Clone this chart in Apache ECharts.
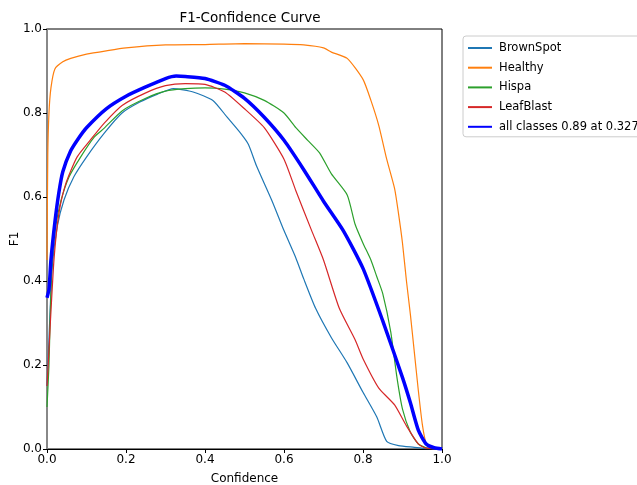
<!DOCTYPE html>
<html><head><meta charset="utf-8">
<script src="https://cdn.jsdelivr.net/npm/echarts@6/dist/echarts.min.js"></script>
<style>html,body{margin:0;padding:0;background:#fff}#c{width:637px;height:485px}</style>
</head><body><div id="c"></div>
<script>
const xTicks = [0, 0.2, 0.4, 0.6, 0.8, 1.0];
const yTicks = [0, 0.2, 0.4, 0.6, 0.8, 1.0];

const brownX = [0, 0.004, 0.013, 0.026, 0.043, 0.068, 0.1, 0.145, 0.19, 0.235, 0.28, 0.32, 0.37, 0.42, 0.456, 0.49, 0.51, 0.53, 0.57, 0.6, 0.63, 0.65, 0.68, 0.72, 0.76, 0.8, 0.835, 0.86, 0.89, 0.93, 0.96, 1.0];
const brownY = [0.15, 0.24, 0.43, 0.53, 0.593, 0.648, 0.695, 0.752, 0.8, 0.826, 0.845, 0.858, 0.85, 0.83, 0.79, 0.752, 0.725, 0.675, 0.59, 0.52, 0.455, 0.405, 0.335, 0.265, 0.205, 0.135, 0.076, 0.018, 0.008, 0.004, 0.001, 0];

const healthyX = [0, 0.002, 0.005, 0.01, 0.02, 0.04, 0.06, 0.1, 0.15, 0.2, 0.3, 0.4, 0.5, 0.6, 0.65, 0.7, 0.72, 0.76, 0.8, 0.82, 0.84, 0.86, 0.88, 0.89, 0.9, 0.91, 0.92, 0.93, 0.94, 0.95, 0.96, 0.97, 0.98, 1.0];
const healthyY = [0.45, 0.7, 0.8, 0.86, 0.905, 0.922, 0.93, 0.94, 0.948, 0.955, 0.962, 0.963, 0.965, 0.964, 0.962, 0.955, 0.945, 0.93, 0.88, 0.83, 0.77, 0.69, 0.62, 0.56, 0.49, 0.4, 0.32, 0.23, 0.14, 0.06, 0.012, 0.003, 0, 0];

const hispaX = [0, 0.005, 0.008, 0.013, 0.022, 0.035, 0.056, 0.085, 0.12, 0.145, 0.19, 0.25, 0.3, 0.35, 0.4, 0.45, 0.5, 0.55, 0.6, 0.63, 0.66, 0.69, 0.72, 0.76, 0.78, 0.8, 0.82, 0.835, 0.85, 0.87, 0.886, 0.9, 0.92, 0.94, 0.96, 1.0];
const hispaY = [0.1, 0.2, 0.31, 0.45, 0.53, 0.59, 0.648, 0.695, 0.743, 0.764, 0.805, 0.835, 0.852, 0.858, 0.86, 0.857, 0.848, 0.83, 0.8, 0.765, 0.735, 0.705, 0.655, 0.605, 0.535, 0.49, 0.45, 0.41, 0.37, 0.28, 0.17, 0.095, 0.04, 0.012, 0.003, 0];

const leafX = [0, 0.003, 0.009, 0.018, 0.03, 0.047, 0.076, 0.11, 0.145, 0.19, 0.25, 0.3, 0.35, 0.4, 0.45, 0.5, 0.55, 0.6, 0.63, 0.67, 0.7, 0.74, 0.78, 0.8, 0.84, 0.88, 0.91, 0.94, 0.96, 1.0];
const leafY = [0.15, 0.2, 0.31, 0.455, 0.56, 0.63, 0.695, 0.736, 0.776, 0.818, 0.848, 0.865, 0.87, 0.868, 0.85, 0.81, 0.765, 0.69, 0.615, 0.52, 0.45, 0.335, 0.26, 0.215, 0.145, 0.105, 0.055, 0.012, 0.002, 0];

const allX = [0, 0.005, 0.01, 0.02, 0.03, 0.04, 0.06, 0.08, 0.1, 0.15, 0.2, 0.25, 0.3, 0.327, 0.35, 0.4, 0.45, 0.5, 0.55, 0.6, 0.65, 0.7, 0.75, 0.8, 0.85, 0.9, 0.92, 0.94, 0.96, 0.98, 1.0];
const allY = [0.36, 0.38, 0.45, 0.54, 0.61, 0.66, 0.71, 0.74, 0.765, 0.81, 0.84, 0.862, 0.882, 0.888, 0.887, 0.882, 0.866, 0.835, 0.79, 0.735, 0.665, 0.59, 0.52, 0.43, 0.305, 0.17, 0.11, 0.045, 0.012, 0.003, 0];

const names = ['BrownSpot', 'Healthy', 'Hispa', 'LeafBlast', 'all classes 0.89 at 0.327'];
const colors = ['#1f77b4', '#ff7f0e', '#2ca02c', '#d62728', '#0000ff'];
const xs = [brownX, healthyX, hispaX, leafX, allX];
const ys = [brownY, healthyY, hispaY, leafY, allY];
const widths = [1.2, 1.2, 1.2, 1.2, 3.5];

const pair = (a, b) => a.map((v, i) => [v, b[i]]);
const series = names.map((n, i) => ({
  name: n, type: 'line', data: pair(xs[i], ys[i]), showSymbol: false, symbol: 'none',
  smooth: 0.2, lineStyle: {color: colors[i], width: widths[i]}, itemStyle: {color: colors[i]},
  z: i === 4 ? 5 : 2, animation: false
}));

const font = 'DejaVu Sans';
const chart = echarts.init(document.getElementById('c'), null, {renderer: 'canvas'});
chart.setOption({
  animation: false,
  title: {text: 'F1-Confidence Curve', left: 245, top: 6, textAlign: 'center',
    textStyle: {fontFamily: font, fontSize: 13.5, fontWeight: 'normal', color: '#000'}},
  legend: {
    orient: 'vertical', left: 463, top: 36, data: names,
    itemWidth: 24, itemHeight: 10, itemGap: 7.7,
    itemStyle: {opacity: 0},
    padding: [6, 6, 4, 4], borderColor: '#ccc', borderWidth: 1, borderRadius: 3,
    textStyle: {fontFamily: font, fontSize: 11.5, color: '#000', padding: [0, 0, 0, 2]}
  },
  grid: {left: 47, right: 195, top: 29, bottom: 36, show: true, borderColor: '#000', borderWidth: 1,
    containLabel: false, outerBoundsMode: 'none'},
  xAxis: {
    type: 'value', min: 0, max: 1, interval: 0.2,
    name: 'Confidence', nameLocation: 'middle', nameGap: 24,
    nameTextStyle: {fontFamily: font, fontSize: 12, color: '#000'},
    axisLine: {show: true, lineStyle: {color: '#000', width: 1}},
    axisTick: {show: true, length: 4, lineStyle: {color: '#000'}},
    axisLabel: {fontFamily: font, fontSize: 12, color: '#000', margin: 5,
      formatter: v => xTicks.includes(+v.toFixed(1)) ? v.toFixed(1) : ''},
    splitLine: {show: false}
  },
  yAxis: {
    type: 'value', min: 0, max: 1, interval: 0.2,
    name: 'F1', nameLocation: 'middle', nameGap: 26, nameRotate: 90, nameMoveOverlap: false,
    nameTextStyle: {fontFamily: font, fontSize: 12, color: '#000'},
    axisLine: {show: true, lineStyle: {color: '#888', width: 2}},
    axisTick: {show: true, length: 4, lineStyle: {color: '#000'}},
    axisLabel: {fontFamily: font, fontSize: 12, color: '#000', margin: 5,
      formatter: v => yTicks.includes(+v.toFixed(1)) ? v.toFixed(1) : ''},
    splitLine: {show: false}
  },
  series: series
});
</script></body></html>
